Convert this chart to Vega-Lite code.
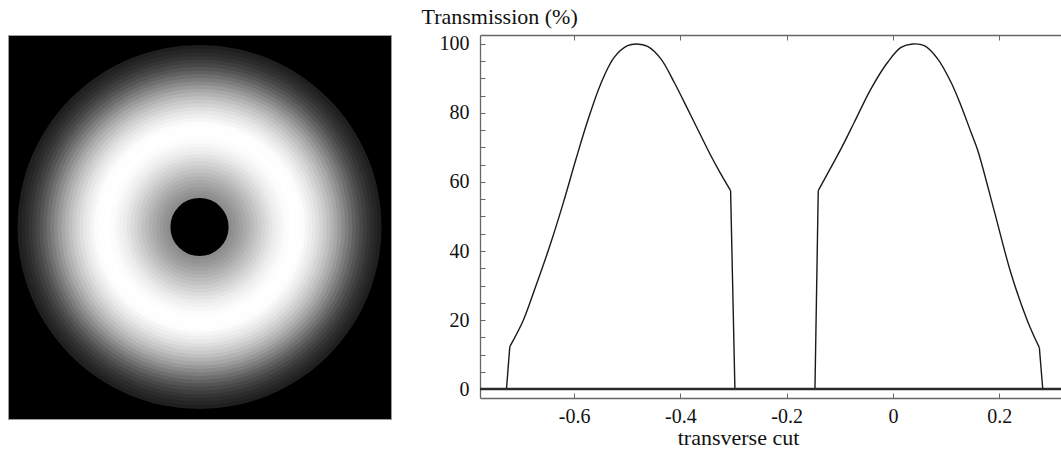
{
  "$schema": "https://vega.github.io/schema/vega-lite/v6.json",
  "background": "white",
  "padding": {"left": 7, "top": 5, "right": 0, "bottom": 0},
  "spacing": 89,
  "bounds": "flush",
  "config": {
    "view": {"stroke": null},
    "axis": {
      "labelFont": "Liberation Serif",
      "titleFont": "Liberation Serif",
      "labelFontSize": 20,
      "titleFontSize": 22,
      "titleFontWeight": "normal",
      "labelColor": "#111111",
      "titleColor": "#111111",
      "domainColor": "#666666",
      "tickColor": "#666666",
      "grid": false
    }
  },
  "hconcat": [
    {
      "width": 383,
      "height": 384,
      "view": {"fill": "#000000", "stroke": "#9a9a9a", "strokeWidth": 1},
      "data": {
        "values": [
          {"f": 1.00, "t": 12},
          {"f": 0.98, "t": 14.7},
          {"f": 0.96, "t": 17.8},
          {"f": 0.94, "t": 21.7},
          {"f": 0.92, "t": 26.1},
          {"f": 0.90, "t": 30.5},
          {"f": 0.88, "t": 35.6},
          {"f": 0.86, "t": 41.2},
          {"f": 0.84, "t": 46.8},
          {"f": 0.82, "t": 52.4},
          {"f": 0.80, "t": 57.9},
          {"f": 0.78, "t": 63.3},
          {"f": 0.76, "t": 68.5},
          {"f": 0.74, "t": 72.9},
          {"f": 0.72, "t": 77.3},
          {"f": 0.70, "t": 81.5},
          {"f": 0.68, "t": 84.9},
          {"f": 0.66, "t": 88.4},
          {"f": 0.64, "t": 91.7},
          {"f": 0.62, "t": 94.2},
          {"f": 0.60, "t": 96.6},
          {"f": 0.58, "t": 99},
          {"f": 0.56, "t": 99.5},
          {"f": 0.54, "t": 99.8},
          {"f": 0.52, "t": 100},
          {"f": 0.50, "t": 99.2},
          {"f": 0.48, "t": 98.5},
          {"f": 0.46, "t": 96.8},
          {"f": 0.44, "t": 95.1},
          {"f": 0.42, "t": 93.4},
          {"f": 0.40, "t": 90.7},
          {"f": 0.38, "t": 87.8},
          {"f": 0.36, "t": 85.0},
          {"f": 0.34, "t": 82.0},
          {"f": 0.32, "t": 78.9},
          {"f": 0.30, "t": 75.7},
          {"f": 0.28, "t": 72.7},
          {"f": 0.26, "t": 69.5},
          {"f": 0.24, "t": 66.5},
          {"f": 0.22, "t": 63.7},
          {"f": 0.20, "t": 61.1},
          {"f": 0.18, "t": 58.5},
          {"f": 0.16, "t": 0}
        ]
      },
      "mark": {"type": "arc", "theta": 0, "theta2": 6.2832, "strokeWidth": 0},
      "encoding": {
        "radius": {"field": "f", "type": "quantitative", "stack": null, "scale": {"type": "linear", "domain": [0, 1], "range": [0, 182], "zero": true}},
        "color": {"field": "t", "type": "quantitative", "scale": {"domain": [0, 100], "range": ["#000000", "#ffffff"]}, "legend": null}
      }
    },
    {
      "width": 582,
      "height": 363,
      "view": {"stroke": null},
      "layer": [
        {
          "data": {
            "values": [
              {"seg": "outerL", "kind": "edge", "x": -0.7272, "T": 0},
              {"seg": "outerL", "kind": "edge", "x": -0.7209, "T": 12.3},
              {"seg": "humpL", "kind": "curve", "x": -0.7209, "T": 12.3},
              {"seg": "humpL", "kind": "curve", "x": -0.6959, "T": 19.8},
              {"seg": "humpL", "kind": "curve", "x": -0.6739, "T": 29.0},
              {"seg": "humpL", "kind": "curve", "x": -0.6456, "T": 41.5},
              {"seg": "humpL", "kind": "curve", "x": -0.6206, "T": 53.8},
              {"seg": "humpL", "kind": "curve", "x": -0.5967, "T": 66.5},
              {"seg": "humpL", "kind": "curve", "x": -0.5747, "T": 77.6},
              {"seg": "humpL", "kind": "curve", "x": -0.5497, "T": 88.5},
              {"seg": "humpL", "kind": "curve", "x": -0.5246, "T": 96.1},
              {"seg": "humpL", "kind": "curve", "x": -0.4994, "T": 99.5},
              {"seg": "humpL", "kind": "curve", "x": -0.4819, "T": 100},
              {"seg": "humpL", "kind": "curve", "x": -0.4617, "T": 99.3},
              {"seg": "humpL", "kind": "curve", "x": -0.4367, "T": 95.7},
              {"seg": "humpL", "kind": "curve", "x": -0.4117, "T": 88.9},
              {"seg": "humpL", "kind": "curve", "x": -0.3865, "T": 81.2},
              {"seg": "humpL", "kind": "curve", "x": -0.3614, "T": 73.4},
              {"seg": "humpL", "kind": "curve", "x": -0.3426, "T": 67.6},
              {"seg": "humpL", "kind": "curve", "x": -0.3256, "T": 62.8},
              {"seg": "humpL", "kind": "curve", "x": -0.3055, "T": 57.5},
              {"seg": "innerL", "kind": "edge", "x": -0.3055, "T": 57.5},
              {"seg": "innerL", "kind": "edge", "x": -0.2974, "T": 0},
              {"seg": "innerR", "kind": "edge", "x": -0.1468, "T": 0},
              {"seg": "innerR", "kind": "edge", "x": -0.1406, "T": 57.5},
              {"seg": "humpR", "kind": "curve", "x": -0.1406, "T": 57.5},
              {"seg": "humpR", "kind": "curve", "x": -0.1105, "T": 66.0},
              {"seg": "humpR", "kind": "curve", "x": -0.0979, "T": 69.6},
              {"seg": "humpR", "kind": "curve", "x": -0.0728, "T": 77.3},
              {"seg": "humpR", "kind": "curve", "x": -0.0414, "T": 87},
              {"seg": "humpR", "kind": "curve", "x": -0.01, "T": 94.7},
              {"seg": "humpR", "kind": "curve", "x": 0.0151, "T": 99},
              {"seg": "humpR", "kind": "curve", "x": 0.0371, "T": 100},
              {"seg": "humpR", "kind": "curve", "x": 0.0589, "T": 99.5},
              {"seg": "humpR", "kind": "curve", "x": 0.0841, "T": 95.7},
              {"seg": "humpR", "kind": "curve", "x": 0.1092, "T": 88.9},
              {"seg": "humpR", "kind": "curve", "x": 0.128, "T": 82.1},
              {"seg": "humpR", "kind": "curve", "x": 0.1468, "T": 74.4},
              {"seg": "humpR", "kind": "curve", "x": 0.1594, "T": 69.2},
              {"seg": "humpR", "kind": "curve", "x": 0.1907, "T": 51.5},
              {"seg": "humpR", "kind": "curve", "x": 0.2221, "T": 33.5},
              {"seg": "humpR", "kind": "curve", "x": 0.2536, "T": 19.5},
              {"seg": "humpR", "kind": "curve", "x": 0.2754, "T": 12},
              {"seg": "outerR", "kind": "edge", "x": 0.2754, "T": 12},
              {"seg": "outerR", "kind": "edge", "x": 0.2818, "T": 0}
            ]
          },
          "layer": [
            {
              "transform": [{"filter": "datum.kind === 'curve'"}],
              "mark": {"type": "line", "interpolate": "catmull-rom", "color": "#1a1a1a", "strokeWidth": 1.4},
              "encoding": {
                "detail": {"field": "seg"},
                "x": {
                  "field": "x", "type": "quantitative",
                  "scale": {"domain": [-0.777, 0.318], "nice": false, "zero": false},
                  "axis": {
                    "orient": "bottom",
                    "values": [-0.6, -0.4, -0.2, 0, 0.2],
                    "labelExpr": "replace(format(datum.value, '.1~f'), '−', '-')",
                    "tickSize": -5,
                    "labelPadding": 13,
                    "domain": true,
                    "domainWidth": 1.3,
                    "title": "transverse cut",
                    "titleX": 258,
                    "titleY": 46,
                    "titleAlign": "center",
                    "titleBaseline": "alphabetic"
                  }
                },
                "y": {
                  "field": "T", "type": "quantitative",
                  "scale": {"domain": [-2.6, 102.6], "nice": false, "zero": false},
                  "axis": {
                    "values": [0, 5, 10, 15, 20, 25, 30, 35, 40, 45, 50, 55, 60, 65, 70, 75, 80, 85, 90, 95, 100],
                    "labelExpr": "datum.value % 20 === 0 ? datum.label : ''",
                    "labelOverlap": false,
                    "tickSize": -5,
                    "labelPadding": 16,
                    "domain": true,
                    "domainWidth": 1.3,
                    "title": "Transmission (%)",
                    "titleAngle": 0,
                    "titleAlign": "left",
                    "titleBaseline": "alphabetic",
                    "titleX": -59,
                    "titleY": -12
                  }
                }
              }
            },
            {
              "transform": [{"filter": "datum.kind === 'edge'"}],
              "mark": {"type": "line", "interpolate": "linear", "color": "#1a1a1a", "strokeWidth": 1.4},
              "encoding": {
                "detail": {"field": "seg"},
                "x": {
                  "field": "x", "type": "quantitative",
                  "scale": {"domain": [-0.777, 0.318], "nice": false, "zero": false},
                  "axis": {
                    "orient": "top",
                    "values": [-0.6, -0.4, -0.2, 0, 0.2],
                    "labels": false,
                    "tickSize": -5,
                    "domain": true,
                    "domainWidth": 1.3,
                    "title": null
                  }
                },
                "y": {
                  "field": "T", "type": "quantitative",
                  "scale": {"domain": [-2.6, 102.6], "nice": false, "zero": false},
                  "axis": {
                    "values": [0, 5, 10, 15, 20, 25, 30, 35, 40, 45, 50, 55, 60, 65, 70, 75, 80, 85, 90, 95, 100],
                    "labelExpr": "datum.value % 20 === 0 ? datum.label : ''",
                    "labelOverlap": false,
                    "tickSize": -5,
                    "labelPadding": 16,
                    "domain": true,
                    "domainWidth": 1.3,
                    "title": "Transmission (%)",
                    "titleAngle": 0,
                    "titleAlign": "left",
                    "titleBaseline": "alphabetic",
                    "titleX": -59,
                    "titleY": -12
                  }
                }
              }
            }
          ]
        },
        {
          "data": {"values": [{"level": 0}]},
          "mark": {"type": "rule", "color": "#2a2a2a", "strokeWidth": 2.6},
          "encoding": {
            "y": {
              "field": "level", "type": "quantitative",
              "scale": {"domain": [-2.6, 102.6], "nice": false, "zero": false},
              "axis": {
                "values": [0, 5, 10, 15, 20, 25, 30, 35, 40, 45, 50, 55, 60, 65, 70, 75, 80, 85, 90, 95, 100],
                "labelExpr": "datum.value % 20 === 0 ? datum.label : ''",
                "labelOverlap": false,
                "tickSize": -5,
                "labelPadding": 16,
                "domain": true,
                "domainWidth": 1.3,
                "title": "Transmission (%)",
                "titleAngle": 0,
                "titleAlign": "left",
                "titleBaseline": "alphabetic",
                "titleX": -59,
                "titleY": -12
              }
            }
          }
        }
      ]
    }
  ]
}
